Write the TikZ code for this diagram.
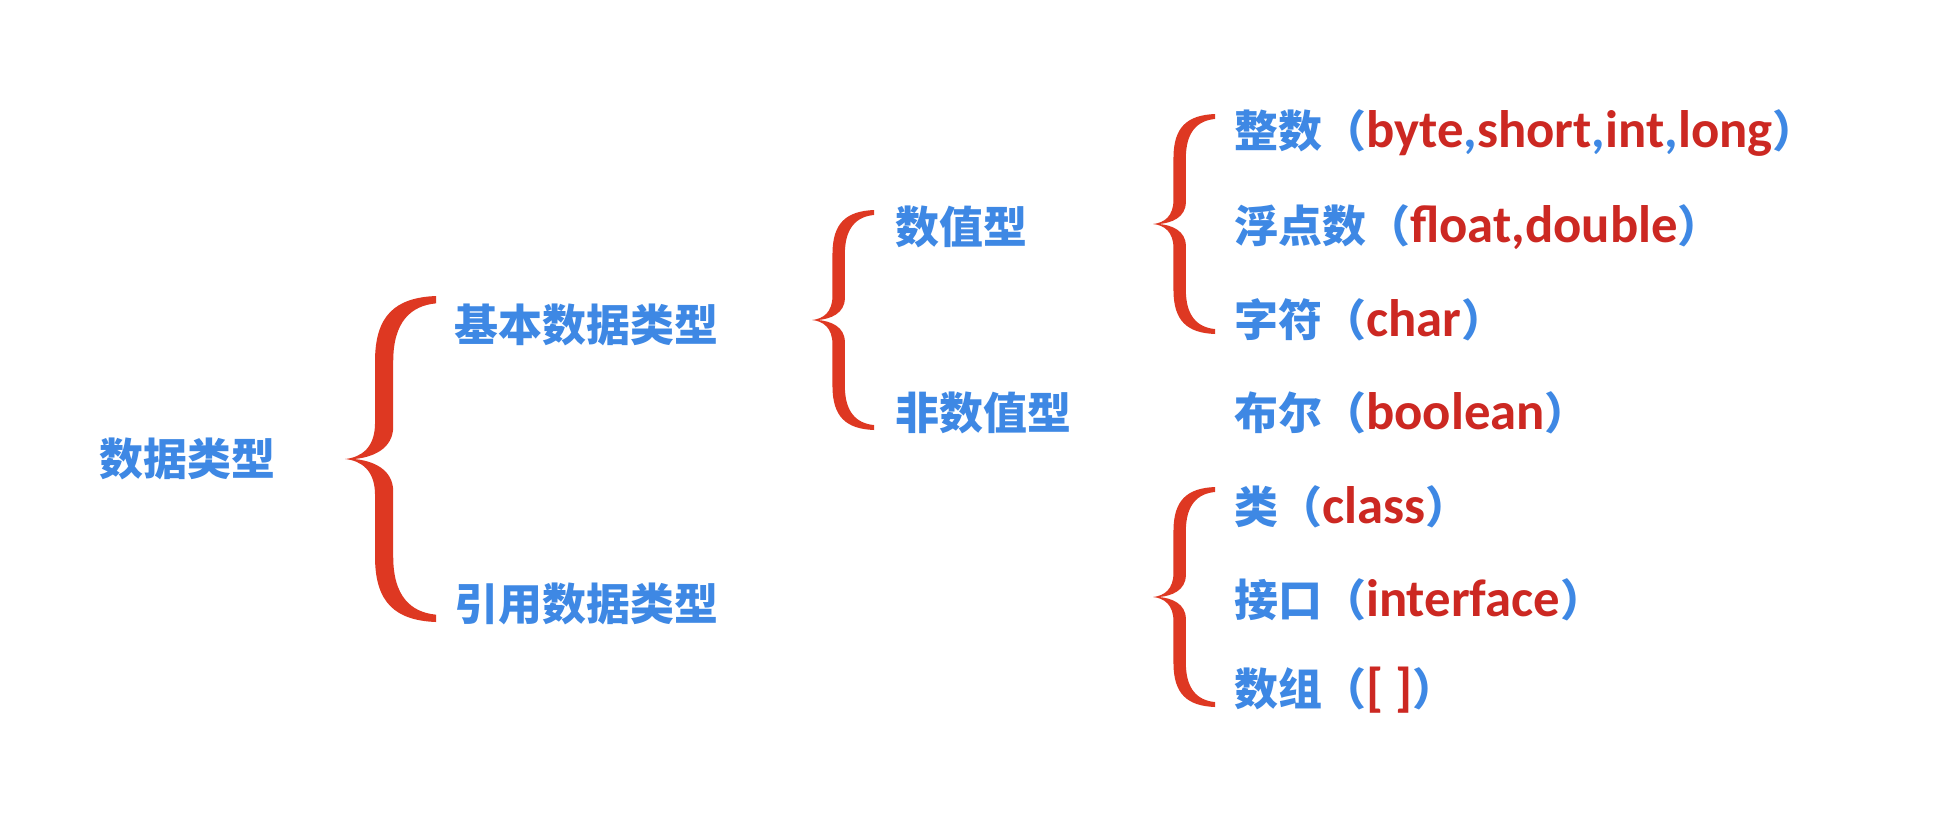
\documentclass[tikz,border=0pt]{standalone}
\usepackage{fontspec}
\setmainfont{Carlito}
\newfontfamily\cjk{Noto Sans CJK SC}
\usetikzlibrary{positioning,calc}
\definecolor{jblue}{RGB}{62,136,228}
\definecolor{jred}{RGB}{204,40,34}
\definecolor{bracered}{RGB}{222,56,34}
\newcommand{\kw}[1]{{\rmfamily\bfseries\fontsize{30}{36}\selectfont\color{jred}#1}}
\newcommand{\cm}{{\rmfamily\bfseries\fontsize{30}{36}\selectfont,}}
\tikzset{
  item/.style={anchor=west,inner sep=0pt,text=jblue,
    font=\cjk\bfseries\fontsize{25}{30}\selectfont},
  % calligraphic brace, tip at origin, opening to the right
  pics/curly/.style={code={
    \fill[bracered] (1,1) .. controls (0.55,0.99) and (0.33,0.88) .. (0.33,0.6)
      -- (0.33,0.22) .. controls (0.33,0.07) and (0.18,0.01) .. (0,0)
      .. controls (0.18,-0.01) and (0.33,-0.07) .. (0.33,-0.22)
      -- (0.33,-0.6) .. controls (0.33,-0.88) and (0.55,-0.99) .. (1,-1)
      -- (1,-0.955) .. controls (0.72,-0.94) and (0.53,-0.84) .. (0.53,-0.6)
      -- (0.53,-0.2) .. controls (0.53,-0.06) and (0.3,-0.01) .. (0.1,0)
      .. controls (0.3,0.01) and (0.53,0.06) .. (0.53,0.2)
      -- (0.53,0.6) .. controls (0.53,0.84) and (0.72,0.94) .. (1,0.955) -- cycle;
  }},
}
\begin{document}
\begin{tikzpicture}[x=0.2mm,y=-0.2mm]
  \useasboundingbox[fill=white] (0,0) rectangle (1944,836);
  % levels
  \node[item] (root) at (99,459) {数据类型};
  \node[item] (basic) at (454,325) {基本数据类型};
  \node[item] (ref) at (454,604) {引用数据类型};
  \node[item] (num) at (895,227) {数值型};
  \node[item] (nonnum) at (895,413) {非数值型};
  % leaves
  \node[item] (int) at (1234,133) {整数（\kw{byte}\cm\kw{short}\cm\kw{int}\cm\kw{long}）};
  \node[item] (flt) at (1234,227) {浮点数（\kw{float,double}）};
  \node[item] (chr) at (1234,320) {字符（\kw{char}）};
  \node[item] (bool) at (1234,413) {布尔（\kw{boolean}）};
  \node[item] (cls) at (1234,507) {类（\kw{class}）};
  \node[item] (ifc) at (1234,600) {接口（\kw{interface}）};
  \node[item] (arr) at (1234,690) {数组（\kw{[ ]}）};
  % braces
  \pic[xscale=91,yscale=163] at (345,459) {curly};
  \pic[xscale=62,yscale=110] at (812,320) {curly};
  \pic[xscale=62,yscale=110] at (1153,224) {curly};
  \pic[xscale=62,yscale=110] at (1153,597) {curly};
\end{tikzpicture}
\end{document}
